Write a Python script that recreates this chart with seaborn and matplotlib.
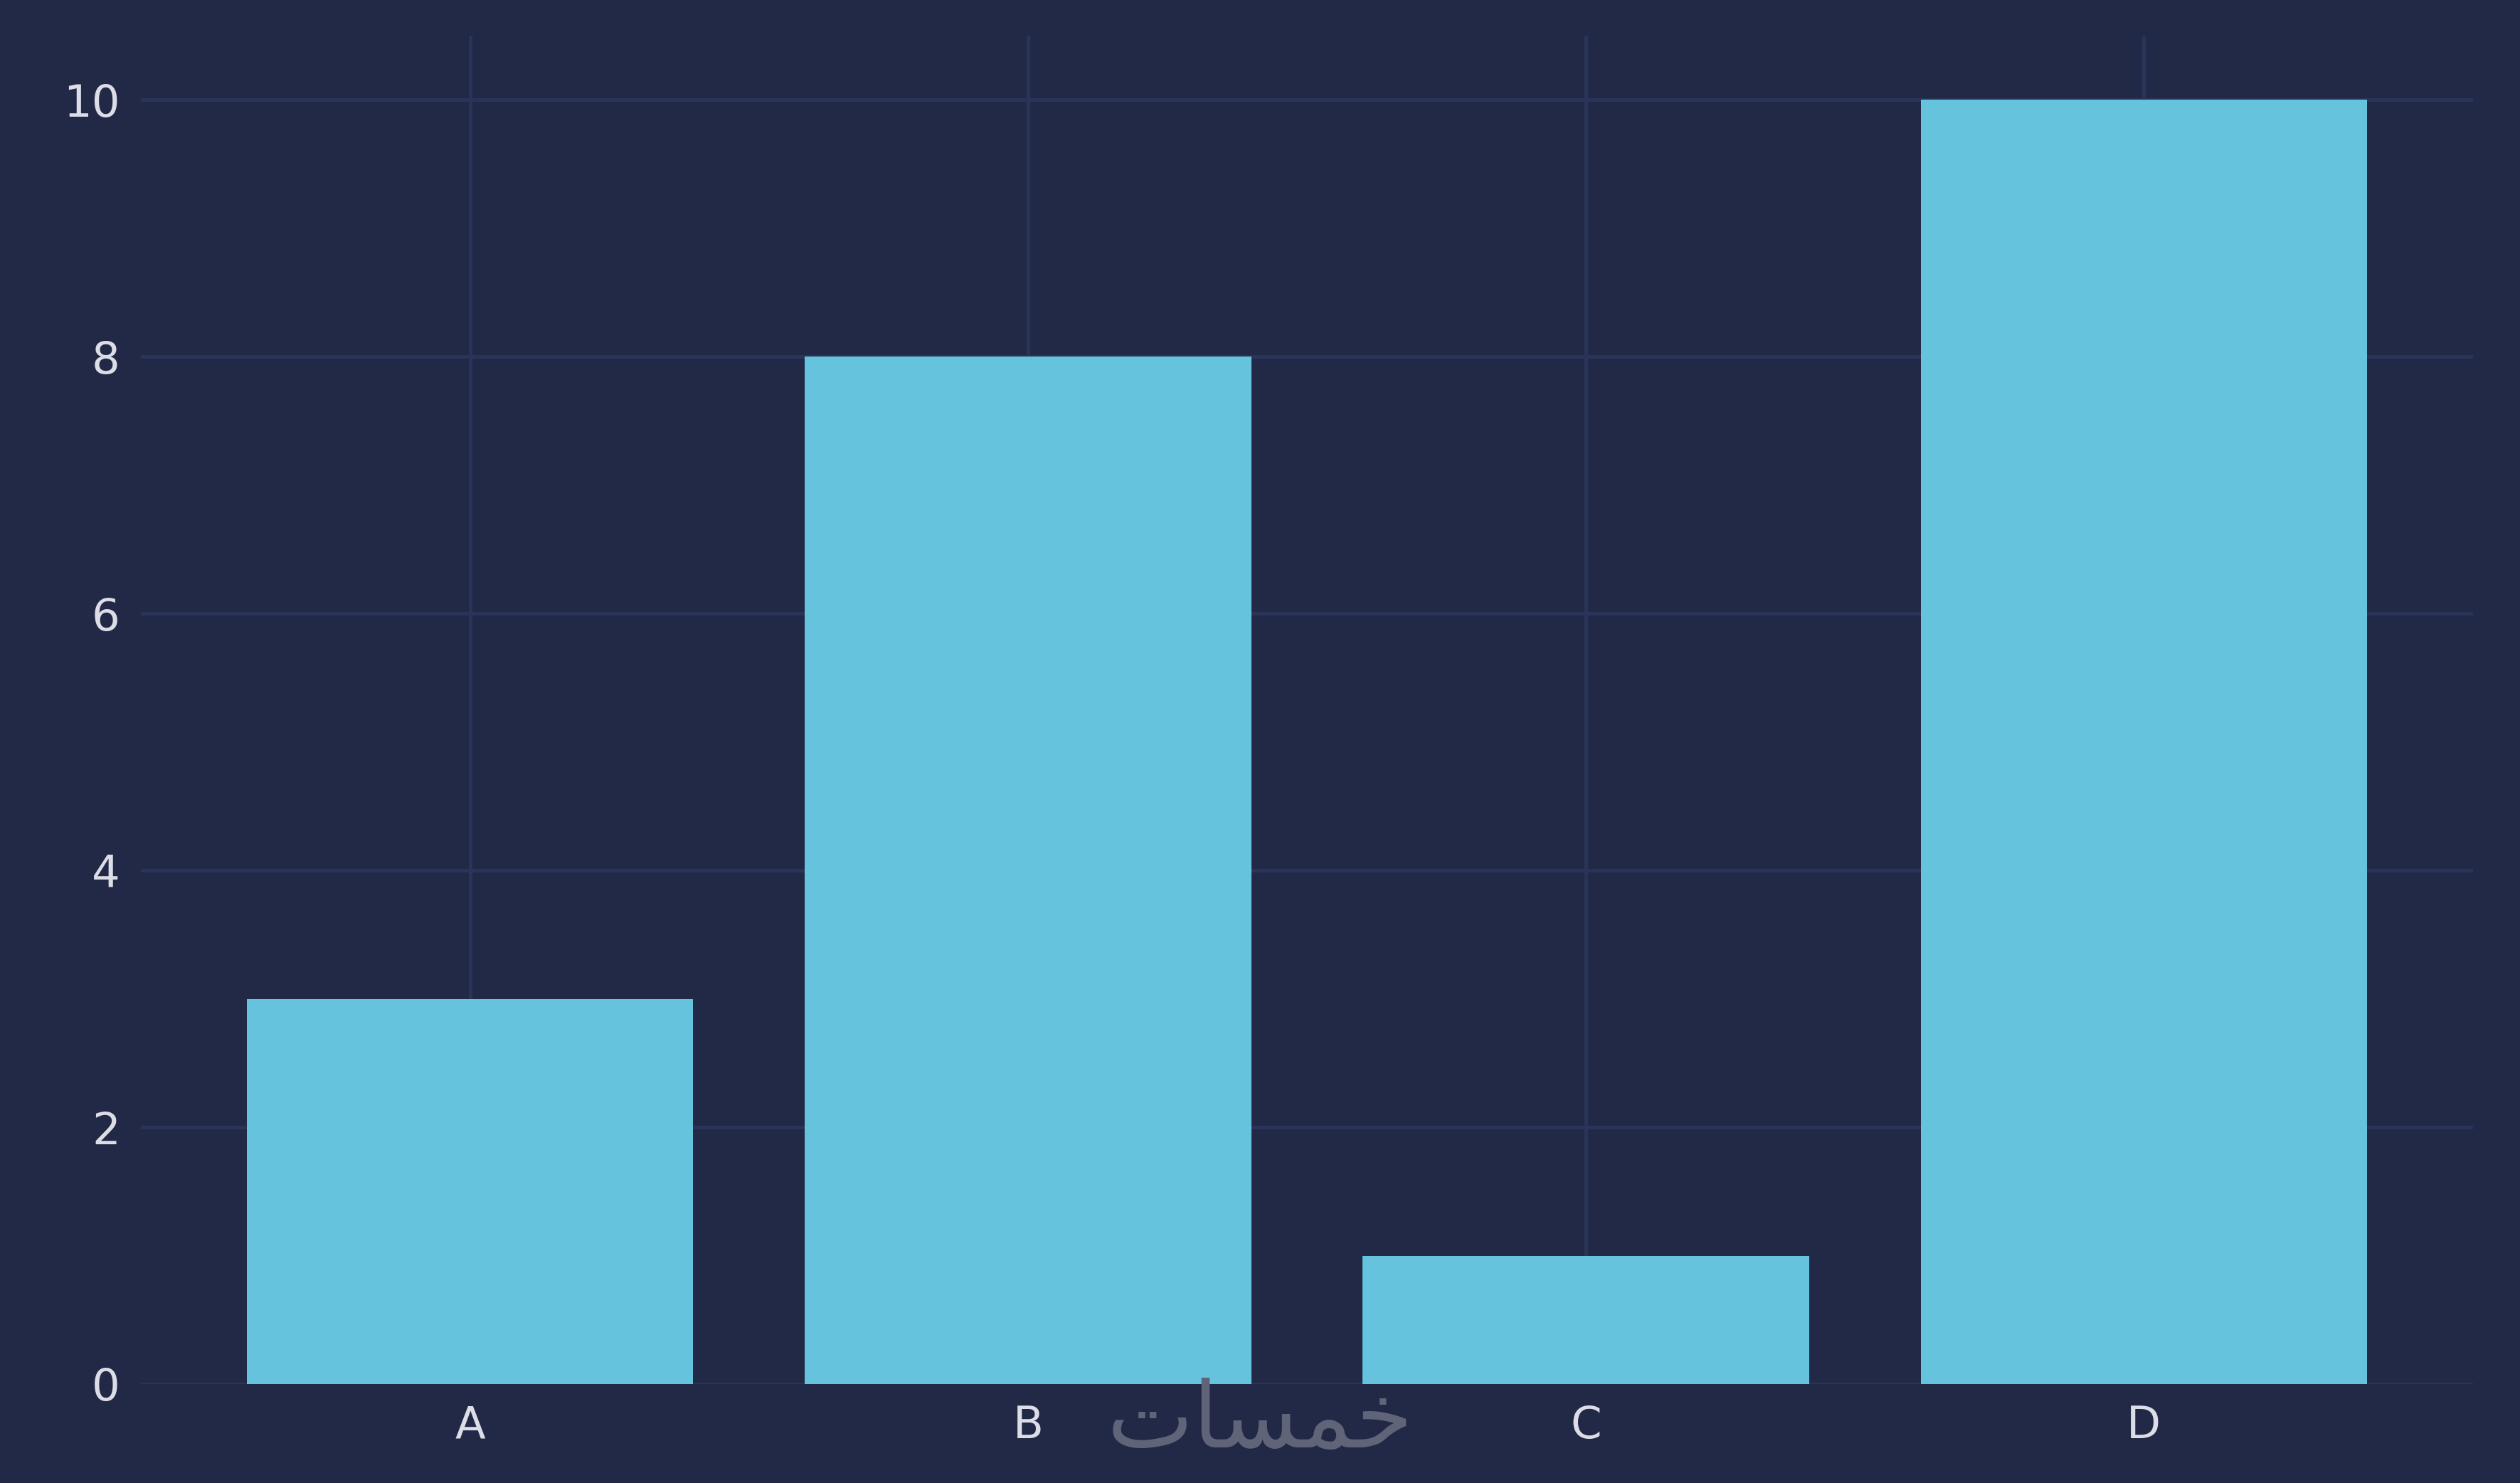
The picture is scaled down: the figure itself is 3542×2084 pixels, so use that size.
import pandas as pd
import seaborn as sns
from matplotlib import pyplot as plt

categories = ["A", "B", "C", "D"]
values = [3, 8, 1, 10]
y_ticks = [0, 2, 4, 6, 8, 10]

BG = "#212946"
GRID = "#2A3459"
BAR = "#66c3dd"

sns.set_theme(style="darkgrid", rc={
    "axes.facecolor": BG,
    "figure.facecolor": BG,
    "grid.color": GRID,
    "grid.linewidth": 1.2,
    "axes.edgecolor": BG,
    "text.color": "#dcdde6",
    "xtick.color": "#dcdde6",
    "ytick.color": "#dcdde6",
})
plt.rcParams["font.family"] = ["DejaVu Sans"]

df = pd.DataFrame({"cat": categories, "val": values})

fig = plt.figure(figsize=(3542 / 300, 2084 / 300), dpi=300)
ax = fig.add_axes([0.0559, 0.0667, 0.9814 - 0.0559, 0.976 - 0.0667])
sns.barplot(data=df, x="cat", y="val", color=BAR, saturation=1, width=0.8,
            linewidth=0, ax=ax)

ax.set_xlim(-0.59, 3.59)
ax.set_ylim(0, 10.5)
ax.set_yticks(y_ticks)
ax.set_xlabel("")
ax.set_ylabel("")
ax.grid(True, axis="both", color=GRID, linewidth=1.2)
ax.tick_params(axis="both", labelsize=15, length=0, pad=7)
for s in ax.spines.values():
    s.set_visible(False)
ax.set_axisbelow(True)

# watermark (خمسات), shaped by hand since matplotlib does no Arabic shaping
fig.text(0.5, 0.041, "\uFE95\uFE8E\uFEB4\uFEE4\uFEA7", color="#5f6478",
         fontsize=31, ha="center", va="center", family=["DejaVu Sans"])

fig.savefig("out.png", dpi=300, facecolor=BG)
